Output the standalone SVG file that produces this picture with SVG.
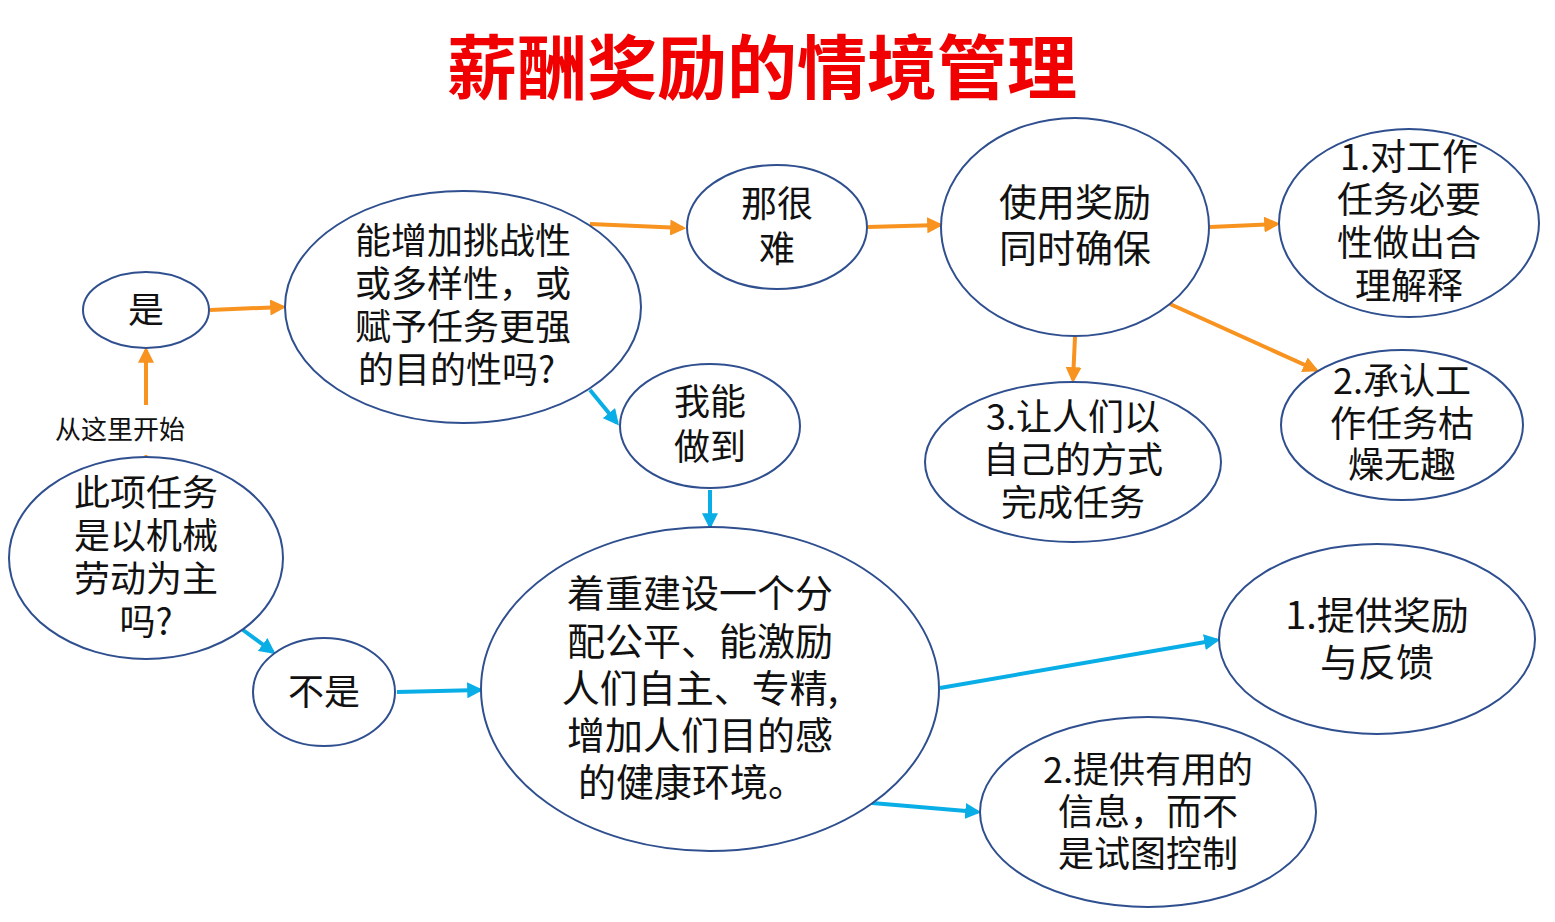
<svg xmlns="http://www.w3.org/2000/svg" width="1555" height="922" viewBox="0 0 1555 922">
<defs>
<style>
.n{fill:#fff;stroke:#2F4F8F;stroke-width:2}
.t{font-family:"Noto Sans CJK SC","Noto Sans",sans-serif;font-size:36px;fill:#111;text-anchor:middle}
.L{font-size:38px}
.o{stroke:#F7931E;stroke-width:4;fill:none;marker-end:url(#ao)}
.b{stroke:#0AAEE6;stroke-width:4;fill:none;marker-end:url(#ab)}
</style>
<marker id="ao" viewBox="0 0 10 10" refX="8" refY="5" markerWidth="4" markerHeight="4" orient="auto"><path d="M0,0L10,5L0,10z" fill="#F7931E"/></marker>
<marker id="ab" viewBox="0 0 10 10" refX="8" refY="5" markerWidth="4" markerHeight="4" orient="auto"><path d="M0,0L10,5L0,10z" fill="#0AAEE6"/></marker>
</defs>
<rect width="1555" height="922" fill="#fff"/>
<text x="762" y="94" style="font-family:'Noto Sans CJK SC',sans-serif;font-size:70px;font-weight:bold;fill:#F00000;text-anchor:middle">薪酬奖励的情境管理</text>
<g id="connectors">
<path class="o" d="M210,310L283,307"/>
<path class="o" d="M590,224L683,228"/>
<path class="o" d="M868,227L940,225"/>
<path class="o" d="M1210,227L1277,224"/>
<path class="o" d="M1170,304L1316,370"/>
<path class="o" d="M1075,337L1073,380"/>
<path class="o" d="M146,405L146,350"/>
<path d="M146,455L146,460" stroke="#F7931E" stroke-width="3"/>
<path class="b" d="M590,390L617,423"/>
<path class="b" d="M710,490L710,526"/>
<path class="b" d="M243,630L273,652"/>
<path class="b" d="M397,692L480,690"/>
<path class="b" d="M940,688L1217,640"/>
<path class="b" d="M872,803L978,812"/>
</g>
<text x="120" y="439" style="font-family:'Noto Sans CJK SC',sans-serif;font-size:26px;fill:#111;text-anchor:middle">从这里开始</text>
<g id="yes"><ellipse class="n" cx="146" cy="310" rx="63" ry="38"/><text class="t" x="146" y="323">是</text></g>
<g id="task"><ellipse class="n" cx="146" cy="558" rx="137" ry="101"/><text class="t" x="146" y="506">此项任务</text><text class="t" x="146" y="549">是以机械</text><text class="t" x="146" y="592">劳动为主</text><text class="t" x="146" y="635">吗?</text></g>
<g id="challenge"><ellipse class="n" cx="463" cy="307" rx="178" ry="116"/><text class="t" x="463" y="254">能增加挑战性</text><text class="t" x="463" y="297">或多样性，或</text><text class="t" x="463" y="340">赋予任务更强</text><text x="358" y="383" class="t" style="text-anchor:start">的目的性吗?</text></g>
<g id="hard"><ellipse class="n" cx="777" cy="227" rx="90" ry="62"/><text class="t" x="777" y="217">那很</text><text class="t" x="777" y="262">难</text></g>
<g id="use"><ellipse class="n" cx="1075" cy="227" rx="134" ry="109"/><text class="t L" x="1075" y="216">使用奖励</text><text class="t L" x="1075" y="262">同时确保</text></g>
<g id="r1"><ellipse class="n" cx="1409" cy="223" rx="130" ry="94"/><text class="t" x="1409" y="170">1.对工作</text><text class="t" x="1409" y="213">任务必要</text><text class="t" x="1409" y="256">性做出合</text><text class="t" x="1409" y="299">理解释</text></g>
<g id="can"><ellipse class="n" cx="710" cy="426" rx="90" ry="62"/><text class="t" x="710" y="415">我能</text><text class="t" x="710" y="460">做到</text></g>
<g id="r3"><ellipse class="n" cx="1073" cy="462" rx="148" ry="80"/><text class="t" x="1073" y="430">3.让人们以</text><text class="t" x="1073" y="473">自己的方式</text><text class="t" x="1073" y="516">完成任务</text></g>
<g id="r2"><ellipse class="n" cx="1402" cy="425" rx="121" ry="75"/><text class="t" x="1402" y="394">2.承认工</text><text class="t" x="1402" y="437">作任务枯</text><text class="t" x="1402" y="478">燥无趣</text></g>
<g id="no"><ellipse class="n" cx="324" cy="692" rx="71" ry="54"/><text class="t" x="324" y="705">不是</text></g>
<g id="env"><ellipse class="n" cx="710" cy="689" rx="229" ry="162"/><text class="t L" x="700" y="607">着重建设一个分</text><text class="t L" x="700" y="655">配公平、能激励</text><text class="t L" x="700" y="702">人们自主、专精,</text><text class="t L" x="700" y="749">增加人们目的感</text><text class="t L" x="692" y="796">的健康环境。</text></g>
<g id="p1"><ellipse class="n" cx="1377" cy="639" rx="158" ry="95"/><text class="t L" x="1377" y="629">1.提供奖励</text><text class="t L" x="1377" y="676">与反馈</text></g>
<g id="p2"><ellipse class="n" cx="1148" cy="812" rx="168" ry="95"/><text class="t" x="1148" y="783">2.提供有用的</text><text class="t" x="1148" y="825">信息，而不</text><text class="t" x="1148" y="867">是试图控制</text></g>
</svg>
